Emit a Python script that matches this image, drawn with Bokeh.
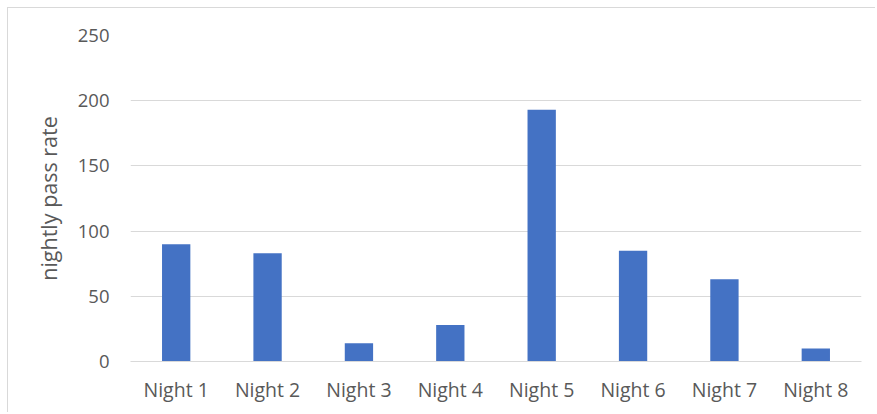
from bokeh.plotting import figure
from bokeh.models import Range1d, FixedTicker, ColumnDataSource, FactorRange
from bokeh.embed import file_html
from bokeh.resources import INLINE

categories = ["Night 1", "Night 2", "Night 3", "Night 4", "Night 5", "Night 6", "Night 7", "Night 8"]
values = [90, 83, 14, 28, 193, 85, 63, 10]
y_ticks = [0, 50, 100, 150, 200, 250]

FONT = "Open Sans"
TEXT = "#595959"
GRID = "#d9d9d9"

src = ColumnDataSource(data=dict(cat=categories, val=values))

p = figure(x_range=FactorRange(*categories), y_range=Range1d(0, 250),
           width=868, height=405, output_backend="svg", toolbar_location=None,
           min_border_left=122, min_border_right=15, min_border_top=27, min_border_bottom=52)
p.styles = {"margin-left": "7px", "margin-top": "7px",
            "border-left": "1px solid #d9d9d9", "border-top": "1px solid #d9d9d9"}
p.outline_line_color = None
p.background_fill_color = "white"
p.border_fill_color = "white"

p.vbar(x="cat", top="val", width=0.31, source=src, fill_color="#4472C4", line_color=None)

p.xgrid.grid_line_color = None
p.ygrid.grid_line_color = GRID
p.ygrid.grid_line_width = 1
p.yaxis.ticker = FixedTicker(ticks=y_ticks)

p.yaxis.axis_line_color = None
p.yaxis.major_tick_line_color = None
p.yaxis.minor_tick_line_color = None
p.yaxis.major_tick_out = 0
p.yaxis.major_label_standoff = 21
p.yaxis.major_label_text_font = FONT
p.yaxis.major_label_text_font_size = "18.5px"
p.yaxis.major_label_text_color = TEXT
p.yaxis.axis_label = "nightly pass rate"
p.yaxis.axis_label_text_font = FONT
p.yaxis.axis_label_text_font_size = "21.5px"
p.yaxis.axis_label_text_font_style = "normal"
p.yaxis.axis_label_text_color = TEXT
p.yaxis.axis_label_standoff = 12

p.xaxis.axis_line_color = GRID
p.xaxis.axis_line_width = 1
p.xaxis.major_tick_line_color = None
p.xaxis.minor_tick_line_color = None
p.xaxis.major_tick_out = 0
p.xaxis.major_label_standoff = 14
p.xaxis.major_label_text_font = FONT
p.xaxis.major_label_text_font_size = "19.5px"
p.xaxis.major_label_text_color = TEXT

open("out.html", "w").write(file_html(p, INLINE))
